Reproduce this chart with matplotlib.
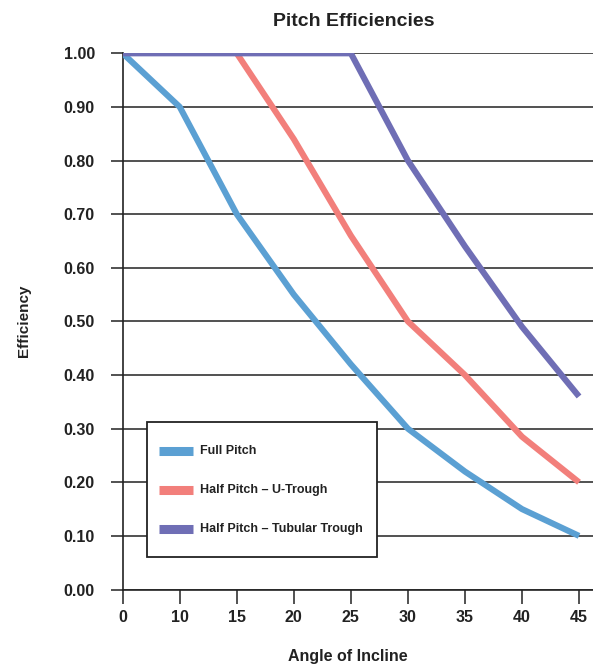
import numpy as np
import matplotlib
matplotlib.use("Agg")
import matplotlib.pyplot as plt
from matplotlib.lines import Line2D
from matplotlib.patches import Rectangle

# data (categorical x axis)
angles = ['0', '10', '15', '20', '25', '30', '35', '40', '45']
full_pitch = [1.00, 0.90, 0.70, 0.55, 0.42, 0.30, 0.22, 0.15, 0.10]
half_u_trough = [np.nan, np.nan, 1.00, 0.84, 0.66, 0.50, 0.40, 0.285, 0.20]
half_tubular = [1.00, 1.00, 1.00, 1.00, 1.00, 0.80, 0.64, 0.49, 0.36]
series_names = ['Full Pitch', 'Half Pitch \u2013 U-Trough', 'Half Pitch \u2013 Tubular Trough']
colors = ['#5ba0d3', '#f27f7b', '#6f6eb5']

plt.rcParams['font.family'] = ['Liberation Sans', 'DejaVu Sans']

W, H = 593, 668
fig = plt.figure(figsize=(W / 100, H / 100), dpi=100)
ax = fig.add_axes([0.2069, 0.1175, 0.7931, 0.8027])

def fx(px):
    return px / W

def fy(py):
    return 1 - py / H

x = np.arange(len(angles))
for vals, name, col in zip([full_pitch, half_u_trough, half_tubular], series_names, colors):
    ax.plot(x, vals, color=col, lw=4.4, label=name, solid_capstyle='butt',
            solid_joinstyle='round', zorder=3)

ax.set_xlim(0, 8.245)
ax.set_ylim(0, 1.0)
ax.set_yticks(np.arange(0, 1.01, 0.1))
ax.set_yticklabels(['%.2f' % v for v in np.arange(0, 1.01, 0.1)])
ax.set_xticks(x)
ax.set_xticklabels(angles)

ax.grid(axis='y', color='#222222', lw=1.1, zorder=1)
ax.set_axisbelow(True)
for s in ['top', 'right']:
    ax.spines[s].set_visible(False)
for s in ['left', 'bottom']:
    ax.spines[s].set_linewidth(1.2)
    ax.spines[s].set_color('#222222')

ax.tick_params(axis='y', direction='out', length=9, width=1.1, pad=11,
               labelsize=11.5, colors='#222222')
ax.tick_params(axis='x', direction='out', length=10, width=1.1, pad=5,
               labelsize=11.5, colors='#222222')
for lab in ax.get_xticklabels() + ax.get_yticklabels():
    lab.set_fontweight('bold')

fig.text(fx(354), fy(22), 'Pitch Efficiencies', ha='center', va='center',
         fontsize=14, fontweight='bold', color='#222222')
fig.text(fx(348), fy(657), 'Angle of Incline', ha='center', va='center',
         fontsize=11.5, fontweight='bold', color='#222222')
fig.text(fx(24), fy(321), 'Efficiency', ha='center', va='center',
         rotation=90, fontsize=11, fontweight='bold', color='#222222')

# legend box drawn by hand so rows sit where the reference has them
fig.add_artist(Rectangle((fx(147.3), fy(556.7)), fx(230), 135 / H,
                         transform=fig.transFigure, facecolor='white',
                         edgecolor='#222222', lw=1.3, zorder=4))
row_y = [450.7, 490.0, 529.0]
for ry, name, col in zip(row_y, series_names, colors):
    fig.add_artist(Line2D([fx(159), fx(193)], [fy(ry), fy(ry)], color=col,
                          lw=6.5, solid_capstyle='butt',
                          transform=fig.transFigure, zorder=5))
    fig.text(fx(200), fy(ry), name, ha='left', va='center', fontsize=9,
             fontweight='bold', color='#222222', zorder=5)

fig.savefig('out.png', dpi=100)
